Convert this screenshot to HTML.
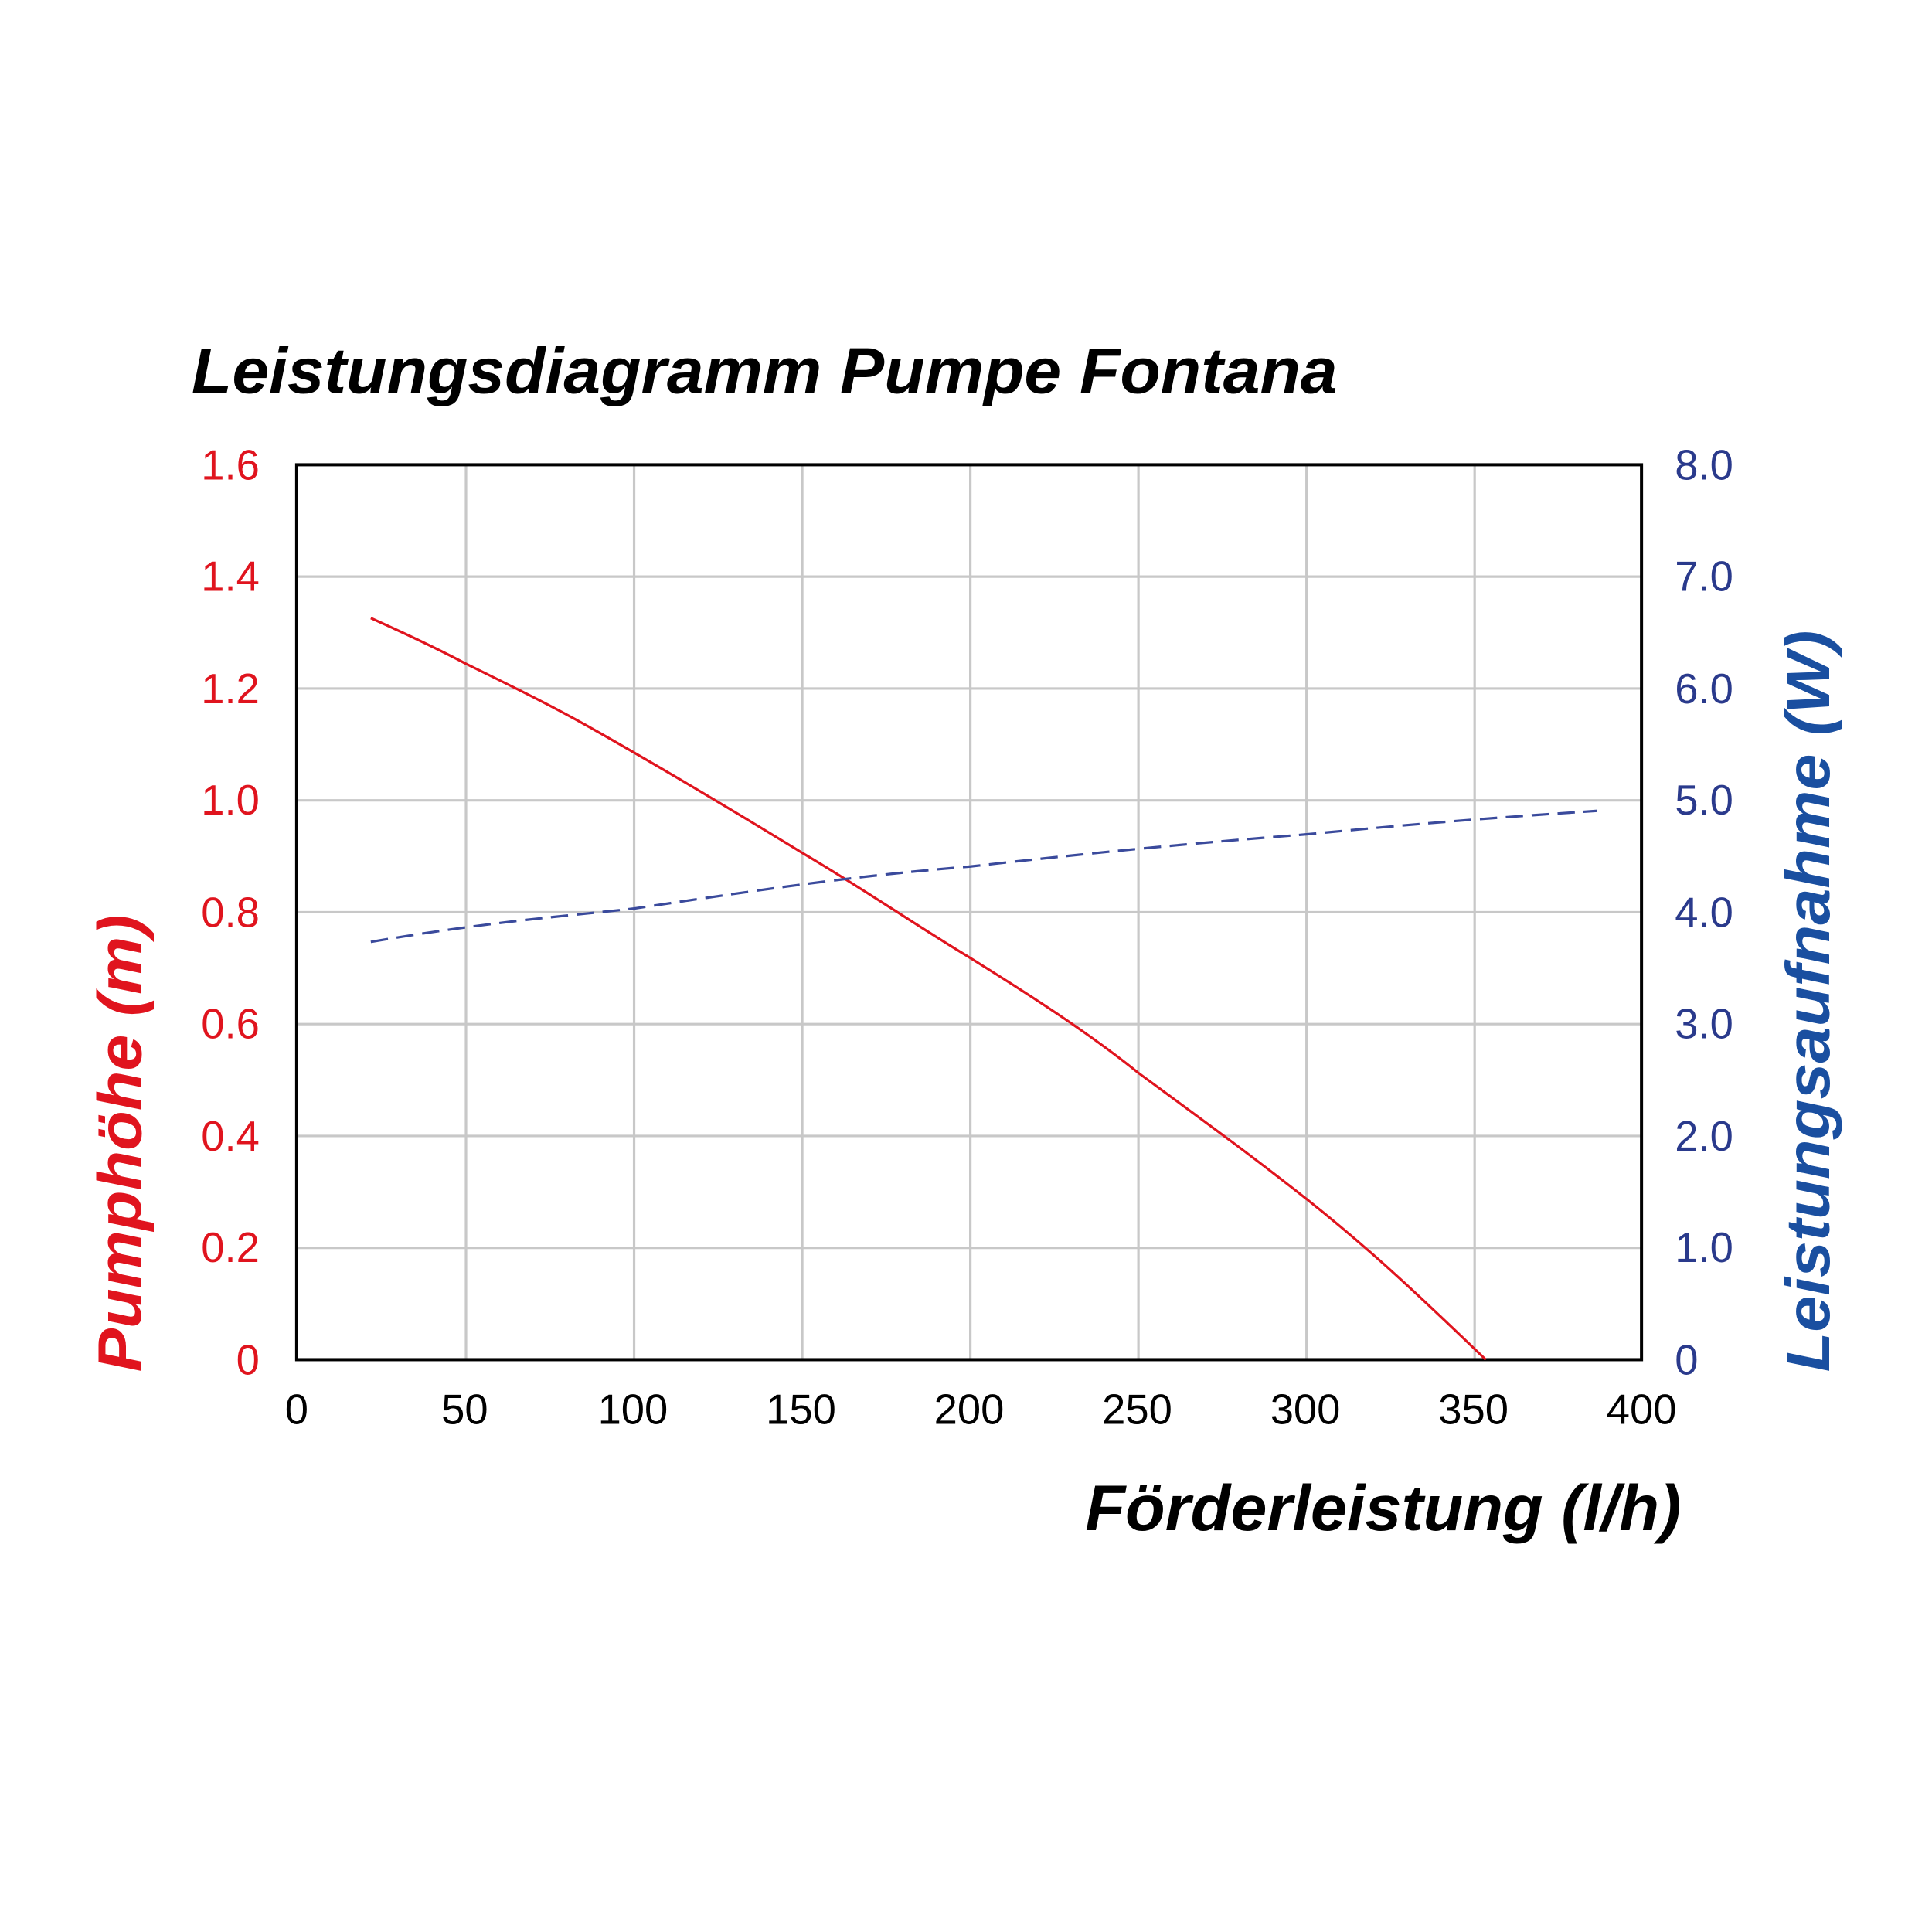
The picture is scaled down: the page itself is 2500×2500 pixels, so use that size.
<!DOCTYPE html>
<html><head><meta charset="utf-8"><style>html,body{margin:0;padding:0;background:#fff}svg{display:block}</style></head>
<body>
<svg width="2500" height="2500" viewBox="0 0 1563 1563" xmlns="http://www.w3.org/2000/svg" font-family="Liberation Sans, Arial, sans-serif">
<rect width="1563" height="1563" fill="#fff"/>
<text x="155" y="318" font-size="52" font-weight="bold" font-style="italic" fill="#000" textLength="927" lengthAdjust="spacingAndGlyphs">Leistungsdiagramm Pumpe Fontana</text>
<g stroke="#c8c8c8" stroke-width="2">
<line x1="377" y1="376" x2="377" y2="1100"/><line x1="513" y1="376" x2="513" y2="1100"/>
<line x1="649" y1="376" x2="649" y2="1100"/><line x1="785" y1="376" x2="785" y2="1100"/>
<line x1="921" y1="376" x2="921" y2="1100"/><line x1="1057" y1="376" x2="1057" y2="1100"/>
<line x1="1193" y1="376" x2="1193" y2="1100"/>
<line x1="240" y1="466.5" x2="1328" y2="466.5"/><line x1="240" y1="557" x2="1328" y2="557"/>
<line x1="240" y1="647.5" x2="1328" y2="647.5"/><line x1="240" y1="738" x2="1328" y2="738"/>
<line x1="240" y1="828.5" x2="1328" y2="828.5"/><line x1="240" y1="919" x2="1328" y2="919"/>
<line x1="240" y1="1009.5" x2="1328" y2="1009.5"/>
</g>
<rect x="240" y="376" width="1088" height="724" fill="none" stroke="#000" stroke-width="2.5"/>
<path d="M300,500 C340,518 360,528 377,537 C420,558 450,573 480,590 C540,624 600,660 649,690 C700,720 740,748 785,775 C830,803 880,835 921,868 C970,904 1010,933 1057,970 C1110,1012 1150,1050 1202,1100" fill="none" stroke="#e0141e" stroke-width="2"/>
<path d="M300,762 C400,745 460,741 513,735 C640,716 700,708 785,701 C900,688 980,681 1057,675 C1140,667 1200,662 1292,656" fill="none" stroke="#3a4a9c" stroke-width="2" stroke-dasharray="14,7"/>
<g font-size="34" fill="#e0141e" text-anchor="end">
<text x="210" y="388">1.6</text><text x="210" y="478">1.4</text><text x="210" y="569">1.2</text>
<text x="210" y="659">1.0</text><text x="210" y="750">0.8</text><text x="210" y="840">0.6</text>
<text x="210" y="931">0.4</text><text x="210" y="1021">0.2</text><text x="210" y="1112">0</text>
</g>
<g font-size="34" fill="#2a3a8c">
<text x="1355" y="388">8.0</text><text x="1355" y="478">7.0</text><text x="1355" y="569">6.0</text>
<text x="1355" y="659">5.0</text><text x="1355" y="750">4.0</text><text x="1355" y="840">3.0</text>
<text x="1355" y="931">2.0</text><text x="1355" y="1021">1.0</text><text x="1355" y="1112">0</text>
</g>
<g font-size="34" fill="#000" text-anchor="middle">
<text x="240" y="1152">0</text><text x="376" y="1152">50</text><text x="512" y="1152">100</text>
<text x="648" y="1152">150</text><text x="784" y="1152">200</text><text x="920" y="1152">250</text>
<text x="1056" y="1152">300</text><text x="1192" y="1152">350</text><text x="1328" y="1152">400</text>
</g>
<text x="878" y="1238" font-size="52" font-weight="bold" font-style="italic" fill="#000" textLength="482" lengthAdjust="spacingAndGlyphs">Förderleistung (l/h)</text>
<text transform="translate(114,925) rotate(-90)" font-size="50" font-weight="bold" font-style="italic" fill="#e0141e" x="-185" textLength="370" lengthAdjust="spacingAndGlyphs">Pumphöhe (m)</text>
<text transform="translate(1480,810) rotate(-90)" font-size="50" font-weight="bold" font-style="italic" fill="#1a4fa0" x="-300" textLength="600" lengthAdjust="spacingAndGlyphs">Leistungsaufnahme (W)</text>
</svg>
</body></html>
